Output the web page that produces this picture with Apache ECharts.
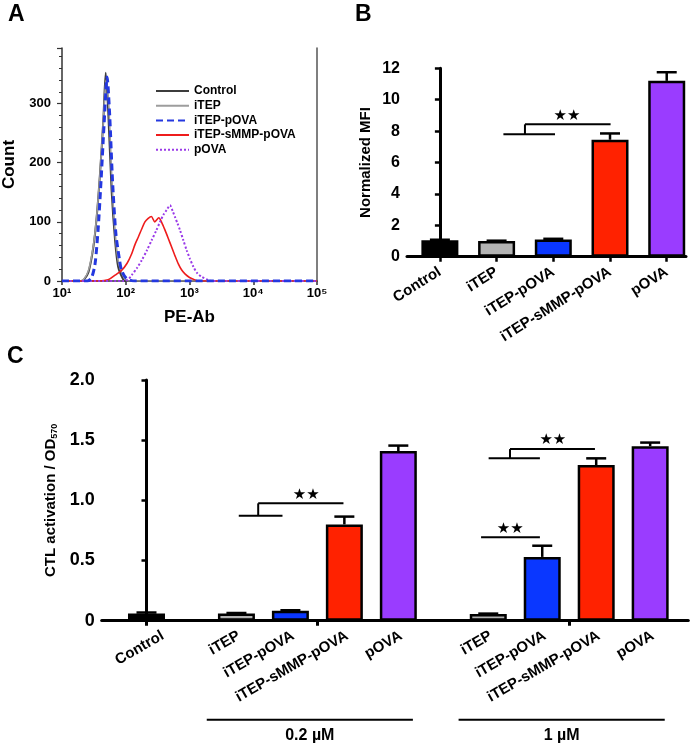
<!DOCTYPE html>
<html><head><meta charset="utf-8">
<script src="https://cdn.jsdelivr.net/npm/echarts@6/dist/echarts.min.js"></script>
<style>html,body{margin:0;padding:0;background:#fff}#c{width:698px;height:750px}</style>
</head><body><div id="c"></div>
<script>
// ---------- Panel A: flow histogram ----------
const histNames = ['Control', 'iTEP', 'iTEP-pOVA', 'iTEP-sMMP-pOVA', 'pOVA'];
const histControl = [[10,0],[20,0],[22,2],[26,15],[31,57],[35,108],[39.5,182],[44.5,272],[48.5,352],[53,289],[60,153],[68,69],[76,24],[91,3],[100,0],[100000,0]];
const histITEP = [[10,0],[19,0],[22,3],[26,18],[31,60],[35,110],[40,190],[45,280],[49,340],[54,300],[61,165],[69,75],[78,28],[95,5],[110,0],[100000,0]];
const histITEPpOVA = [[10,0],[25,0],[29,5],[33,29],[37,90],[41,170],[46,270],[51,345],[56,280],[62,170],[70,80],[80,35],[86,18],[103,4],[140,0],[100000,0]];
const histSMMP = [[10,0],[38,0],[53,2],[68,10],[86,18],[105,30],[124,46],[140,62],[157,74],[178,88],[200,100],[225,106],[252,109],[285,100],[330,107],[370,98],[413,86],[465,72],[526,57],[595,42],[668,29],[750,19],[849,12],[1000,6],[1150,3],[1400,0],[100000,0]];
const histPOVA = [[10,0],[95,0],[110,3],[124,10],[150,22],[178,35],[215,52],[255,69],[300,85],[345,100],[390,112],[438,120],[494,128],[545,118],[593,108],[650,97],[710,86],[800,69],[903,52],[1020,37],[1150,24],[1330,13],[1553,7],[1850,3],[2230,0],[100000,0]];
const histXTicks = [10, 100, 1000, 10000, 100000];
const countTicks = [0, 100, 200, 300];

// ---------- Panel B: normalized MFI ----------
const mfiCategories = ['Control', 'iTEP', 'iTEP-pOVA', 'iTEP-sMMP-pOVA', 'pOVA'];
const mfiValues = [1.05, 1.0, 1.1, 7.45, 11.2];
const mfiErrors = [0.03, 0.02, 0.04, 0.4, 0.55];

// ---------- Panel C: CTL activation ----------
const ctlCategories = ['Control', 'iTEP', 'iTEP-pOVA', 'iTEP-sMMP-pOVA', 'pOVA', 'iTEP', 'iTEP-pOVA', 'iTEP-sMMP-pOVA', 'pOVA'];
const ctlGroupSizes = [1, 4, 4];
const ctlGroupLabels = ['', '0.2 µM', '1 µM'];
const ctlValues = [0.06, 0.06, 0.083, 0.80, 1.41, 0.055, 0.53, 1.293, 1.45];
const ctlErrors = [0.008, 0.004, 0.004, 0.065, 0.045, 0.004, 0.093, 0.056, 0.03];

const FONT = 'Liberation Sans, Arial, Helvetica, sans-serif';
const colorOf = {
  'Control': '#000000', 'iTEP': '#b3b3b3', 'iTEP-pOVA': '#0a37ff',
  'iTEP-sMMP-pOVA': '#ff2200', 'pOVA': '#9a3cff'
};

// layout of C: groups separated by a gap
const GROUP_GAP = 5 / 3;
const ctlPos = [];
const ctlGroupCenters = [];
const ctlGroupRanges = [];
(function () {
  let p = 0;
  ctlGroupSizes.forEach((n, g) => {
    if (g > 0) p = ctlPos[ctlPos.length - 1] + GROUP_GAP;
    const start = p;
    for (let i = 0; i < n; i++) { ctlPos.push(p); p += 1; }
    const end = ctlPos[ctlPos.length - 1];
    ctlGroupCenters.push((start + end) / 2);
    ctlGroupRanges.push([start, end]);
  });
})();
// the lone Control label sits a little to the right of its bar in the original
const ctlLabelPos = ctlPos.map((x, i) => (i === 0 ? x + 0.3 : x + 0.05));
const mfiPos = mfiCategories.map((_, i) => i);

const bracketsB = [{ lo: [1.12, 2.03], lowY: 7.8, mid: 1.5, highY: 8.43, hiEnd: 3.01, star: 2.24 }];
const bracketsC = [
  { lo: [1.71, 2.52], lowY: 0.872, mid: 2.07, highY: 0.975, hiEnd: 3.65, star: 2.96 },
  { lo: [6.34, 7.29], lowY: 1.349, mid: 6.736, highY: 1.426, hiEnd: 8.31, star: 7.53 },
  { lo: [6.20, 7.29], lowY: 0.693, star: 6.74 }
];

const sup = { '1': '¹', '2': '²', '3': '³', '4': '⁴', '5': '⁵' };

function labelAt(positions, names) {
  return function (v) {
    for (let i = 0; i < positions.length; i++) if (Math.abs(positions[i] - v) < 1e-6) return names[i];
    return '';
  };
}

function barSeries(xi, yi, pos, vals, cats) {
  return {
    type: 'bar', xAxisIndex: xi, yAxisIndex: yi, barWidth: 37, z: 3,
    data: pos.map((x, i) => ({ value: [x, vals[i]], itemStyle: { color: colorOf[cats[i]] } })),
    itemStyle: { borderColor: '#000', borderWidth: 2.5 }
  };
}

function errorSeries(xi, yi, pos, vals, errs) {
  return {
    type: 'custom', xAxisIndex: xi, yAxisIndex: yi, z: 2,
    data: pos.map((x, i) => [x, vals[i], vals[i] + errs[i]]),
    renderItem(params, api) {
      const b = api.coord([api.value(0), api.value(1)]);
      const t = api.coord([api.value(0), api.value(2)]);
      const hw = 10;
      return { type: 'group', children: [
        { type: 'line', shape: { x1: t[0], y1: b[1], x2: t[0], y2: t[1] }, style: { stroke: '#000', lineWidth: 2.5 } },
        { type: 'line', shape: { x1: t[0] - hw, y1: t[1], x2: t[0] + hw, y2: t[1] }, style: { stroke: '#000', lineWidth: 2.5 } }
      ] };
    }
  };
}

function bracketSeries(xi, yi, brs) {
  return {
    type: 'custom', xAxisIndex: xi, yAxisIndex: yi, z: 5,
    data: brs.map((b) => [b.star, b.lowY]),
    renderItem(params, api) {
      const b = brs[params.dataIndex];
      const ch = [];
      const L = (x1, y1, x2, y2) => {
        const p = api.coord([x1, y1]), q = api.coord([x2, y2]);
        ch.push({ type: 'line', shape: { x1: p[0], y1: p[1], x2: q[0], y2: q[1] }, style: { stroke: '#000', lineWidth: 2 } });
      };
      L(b.lo[0], b.lowY, b.lo[1], b.lowY);
      if (b.highY != null) { L(b.mid, b.lowY, b.mid, b.highY); L(b.mid, b.highY, b.hiEnd, b.highY); }
      const s = api.coord([b.star, b.highY != null ? b.highY : b.lowY]);
      ch.push({ type: 'text', x: s[0], y: s[1] - 1, style: { text: '★★', font: '15px DejaVu Sans', fill: '#000', align: 'center', verticalAlign: 'bottom' } });
      return { type: 'group', children: ch };
    }
  };
}

function groupLineSeries(xi, yi) {
  const items = [];
  ctlGroupRanges.forEach((r, g) => { if (ctlGroupLabels[g]) items.push({ g, r }); });
  return {
    type: 'custom', xAxisIndex: xi, yAxisIndex: yi, z: 5,
    data: items.map(it => [it.r[0], 0]),
    renderItem(params, api) {
      const it = items[params.dataIndex];
      const p = api.coord([it.r[0] - 0.55, 0]);
      const q = api.coord([it.r[1] + 0.27, 0]);
      const y = p[1] + 99;
      return { type: 'group', children: [
        { type: 'line', shape: { x1: p[0], y1: y, x2: q[0], y2: y }, style: { stroke: '#000', lineWidth: 2 } },
        { type: 'text', x: (p[0] + q[0]) / 2, y: y + 16, style: { text: ctlGroupLabels[it.g], font: 'bold 16px ' + FONT, fill: '#000', align: 'center', verticalAlign: 'middle' } }
      ] };
    }
  };
}

const chart = echarts.init(document.getElementById('c'), null, { renderer: 'canvas' });
const boldLabel = (size) => ({ fontSize: size, fontWeight: 'bold', color: '#000', fontFamily: FONT });

const histStyles = [
  { color: '#3c3c3c', width: 2, type: 'solid' },
  { color: '#9d9d9d', width: 1.6, type: 'solid' },
  { color: '#2438e0', width: 3, type: [7, 4] },
  { color: '#ee1c1c', width: 1.6, type: 'solid' },
  { color: '#9a3ae8', width: 2, type: [2, 2] }
];
const histData = [histControl, histITEP, histITEPpOVA, histSMMP, histPOVA];

chart.setOption({
  animation: false,
  textStyle: { fontFamily: FONT },
  graphic: [
    { type: 'text', left: 8, top: 3, style: { text: 'A', font: 'bold 23px ' + FONT, fill: '#000' } },
    { type: 'text', left: 355, top: 3, style: { text: 'B', font: 'bold 23px ' + FONT, fill: '#000' } },
    { type: 'text', left: 7, top: 345, style: { text: 'C', font: 'bold 23px ' + FONT, fill: '#000' } }
  ],
  legend: {
    orient: 'vertical', left: 155, top: 85, padding: 0,
    itemWidth: 33, itemHeight: 12, itemGap: 2.7,
    data: histNames,
    itemStyle: { opacity: 0 },
    textStyle: { fontSize: 12, fontWeight: 'bold', color: '#000', fontFamily: FONT }
  },
  grid: [
    { left: 62, top: 48, width: 255, height: 233 },
    { left: 407, top: 68.3, width: 279, height: 188.4 },
    { left: 101.7, top: 380, width: 586.6, height: 240.7 }
  ],
  xAxis: [
    {
      gridIndex: 0, type: 'log', logBase: 10, min: 10, max: 100000,
      axisLine: { lineStyle: { color: '#333', width: 1.5 } },
      axisTick: { customValues: histXTicks, length: 4, lineStyle: { color: '#333', width: 1.5 } },
      axisLabel: {
        customValues: histXTicks, margin: 6,
        formatter: v => '10' + sup[String(Math.round(Math.log10(v)))],
        ...boldLabel(13)
      },
      splitLine: { show: false }, minorTick: { show: false },
      name: 'PE-Ab', nameLocation: 'middle', nameGap: 28, nameTextStyle: boldLabel(17)
    },
    {
      gridIndex: 1, type: 'value', min: -0.58, max: 4.34,
      axisLine: { lineStyle: { color: '#000', width: 3 } },
      axisTick: { customValues: mfiPos, length: 5, lineStyle: { color: '#000', width: 2.5 } },
      axisLabel: { customValues: mfiPos, formatter: labelAt(mfiPos, mfiCategories), rotate: 32, margin: 14, ...boldLabel(15) },
      splitLine: { show: false }
    },
    {
      gridIndex: 2, type: 'value', min: -0.83, max: 10.04,
      axisLine: { lineStyle: { color: '#000', width: 3 } },
      axisTick: { customValues: ctlGroupCenters, length: 5, lineStyle: { color: '#000', width: 3 } },
      axisLabel: { customValues: ctlLabelPos, formatter: labelAt(ctlLabelPos, ctlCategories), rotate: 30, margin: 14, ...boldLabel(15) },
      splitLine: { show: false }
    }
  ],
  yAxis: [
    {
      gridIndex: 0, type: 'value', min: 0, max: 394, interval: 100,
      axisLine: { show: true, lineStyle: { color: '#333', width: 1.5 } },
      axisTick: { show: true, length: 5, lineStyle: { color: '#333', width: 1.2 } },
      minorTick: { show: true, splitNumber: 5, length: 3, lineStyle: { color: '#333', width: 1 } },
      axisLabel: { formatter: v => (countTicks.indexOf(v) >= 0 ? String(v) : ''), margin: 11, ...boldLabel(13) },
      splitLine: { show: false },
      name: 'Count', nameLocation: 'middle', nameGap: 44, nameTextStyle: boldLabel(17)
    },
    {
      gridIndex: 0, type: 'value', min: 0, max: 394, position: 'right',
      axisLine: { show: true, lineStyle: { color: '#555', width: 1.5 } },
      axisTick: { show: false }, axisLabel: { show: false }, splitLine: { show: false }
    },
    {
      gridIndex: 1, type: 'value', min: 0, max: 12, interval: 2,
      axisLine: { show: true, lineStyle: { color: '#000', width: 3 } },
      axisTick: { show: true, length: 5, lineStyle: { color: '#000', width: 2.5 } },
      axisLabel: { margin: 7, ...boldLabel(16) },
      splitLine: { show: false },
      name: 'Normalized MFI', nameLocation: 'middle', nameGap: 34, nameTextStyle: boldLabel(15)
    },
    {
      gridIndex: 2, type: 'value', min: 0, max: 2, interval: 0.5,
      axisLine: { show: true, lineStyle: { color: '#000', width: 3 } },
      axisTick: { show: true, length: 5, lineStyle: { color: '#000', width: 2.5 } },
      axisLabel: { margin: 7, formatter: v => (v === 0 ? '0' : v.toFixed(1)), ...boldLabel(18) },
      splitLine: { show: false },
      name: '{a|CTL activation / OD}{s|570}', nameLocation: 'middle', nameGap: 43,
      nameTextStyle: {
        rich: {
          a: { fontSize: 15, fontWeight: 'bold', color: '#000', fontFamily: FONT },
          s: { fontSize: 9, fontWeight: 'bold', color: '#000', fontFamily: FONT, verticalAlign: 'bottom', padding: [6, 0, 0, 0] }
        }
      }
    }
  ],
  series: [
    ...histNames.map((n, i) => ({
      name: n, type: 'line', xAxisIndex: 0, yAxisIndex: 0, symbol: 'none', smooth: 0.25,
      data: histData[i], z: 2 + (i === 2 ? 1 : 0),
      lineStyle: histStyles[i], itemStyle: { color: histStyles[i].color, opacity: 0 }
    })),
    errorSeries(1, 2, mfiPos, mfiValues, mfiErrors),
    barSeries(1, 2, mfiPos, mfiValues, mfiCategories),
    bracketSeries(1, 2, bracketsB),
    errorSeries(2, 3, ctlPos, ctlValues, ctlErrors),
    barSeries(2, 3, ctlPos, ctlValues, ctlCategories),
    bracketSeries(2, 3, bracketsC),
    groupLineSeries(2, 3)
  ]
});
</script></body></html>
